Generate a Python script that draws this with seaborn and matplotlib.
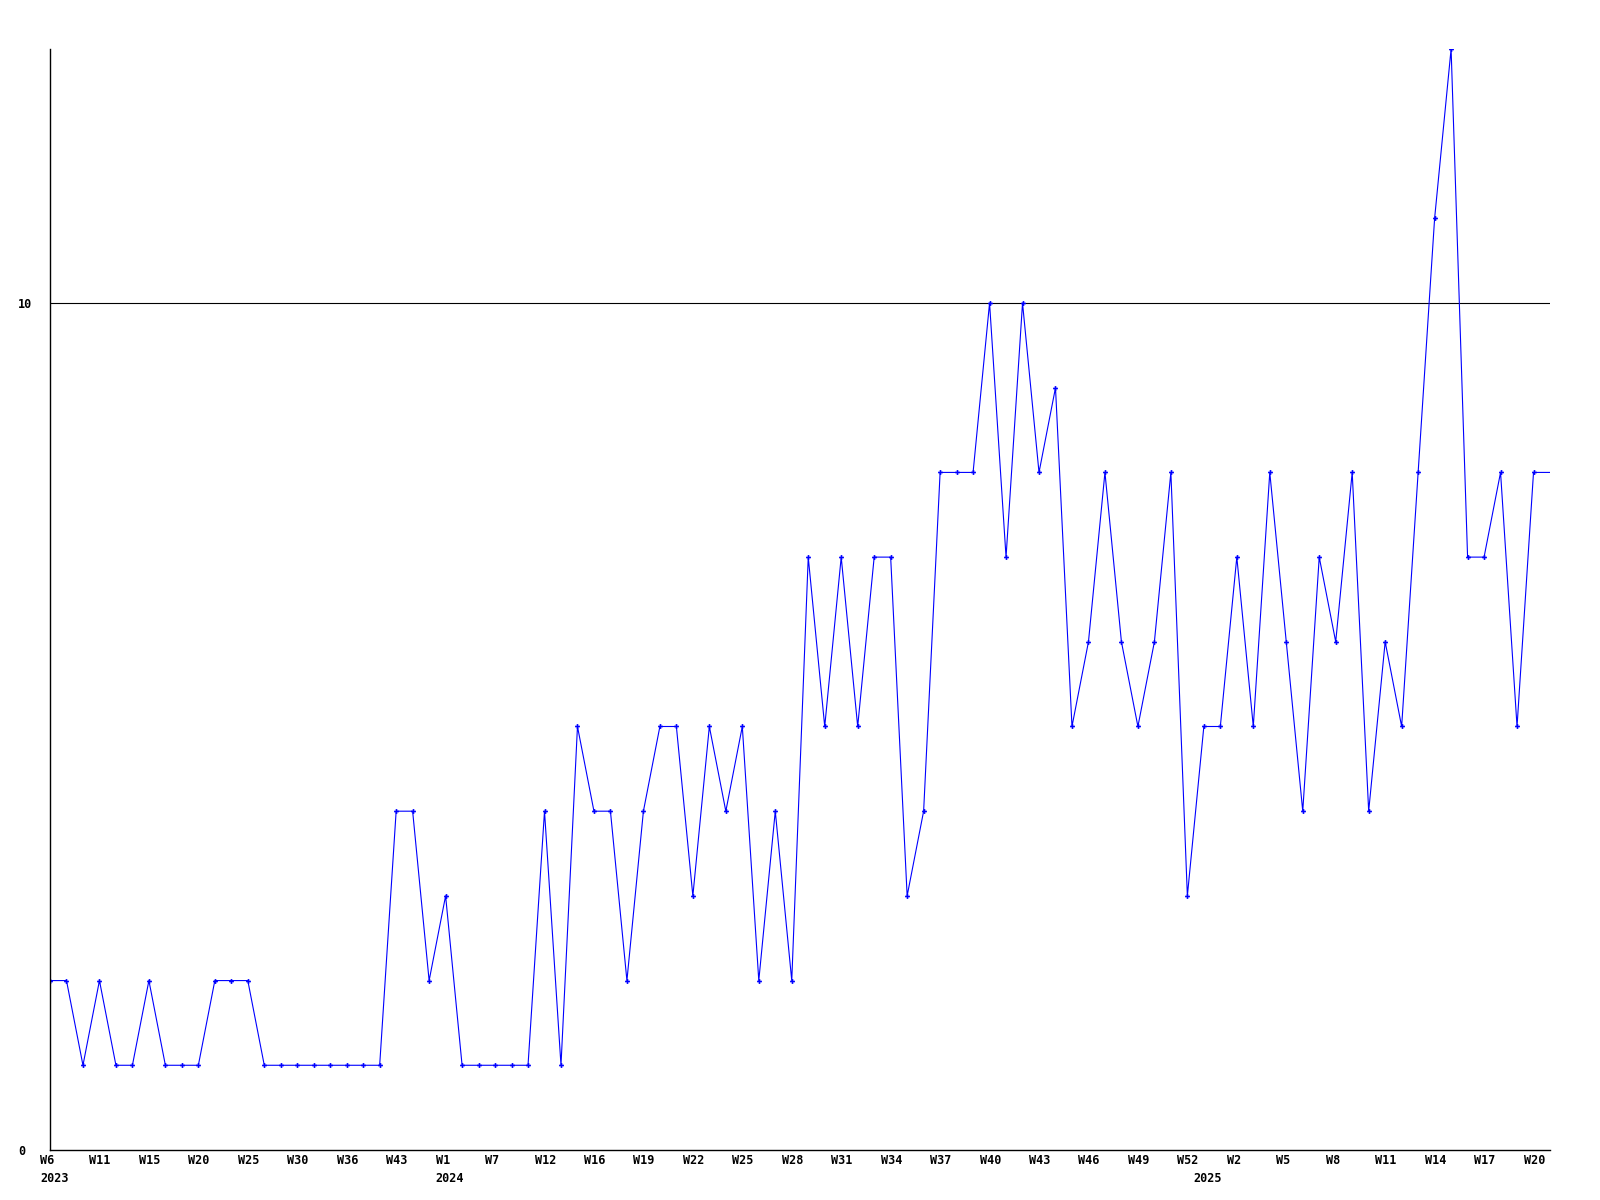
import numpy as np
import pandas as pd
import matplotlib
matplotlib.use("Agg")
import matplotlib.pyplot as plt
import matplotlib.transforms as mtransforms
import seaborn as sns

# --- data (one value per point, last one is the open week, drawn without a marker) ---
values = [2, 2, 1, 2, 1, 1, 2, 1, 1, 1, 2, 2, 2, 1, 1, 1, 1, 1, 1, 1, 1,
          4, 4, 2, 3, 1, 1, 1, 1, 1,
          4, 1, 5, 4, 4, 2, 4, 5, 5, 3, 5, 4, 5, 2, 4, 2,
          7, 5, 7, 5, 7, 7, 3, 4, 8, 8, 8, 10, 7, 10,
          8, 9, 5, 6, 8, 6, 5, 6, 8, 3, 5, 5, 7, 5, 8,
          6, 4, 7, 6, 8, 4, 6, 5, 8, 11, 13, 7, 7, 8, 5, 8,
          8]
tick_labels = ["W6", "W11", "W15", "W20", "W25", "W30", "W36", "W43",
               "W1", "W7", "W12", "W16", "W19", "W22", "W25", "W28",
               "W31", "W34", "W37", "W40", "W43", "W46", "W49", "W52",
               "W2", "W5", "W8", "W11", "W14", "W17", "W20"]
tick_step = 3
years = ["2023", "2024", "2025"]
year_pos = [0, 24, 70]
y_ticks = [0, 10]

df = pd.DataFrame({"idx": np.arange(len(values)), "value": values})

sns.set_style("white")
plt.rcParams["font.family"] = ["DejaVu Sans Mono"]
plt.rcParams["font.weight"] = "bold"
plt.rcParams["text.color"] = "black"
plt.rcParams["xtick.color"] = "black"
plt.rcParams["ytick.color"] = "black"

fig = plt.figure(figsize=(16, 12), dpi=100)
ax = fig.add_axes([0.03125, 0.0417, 0.9375, 0.9175])

sns.lineplot(data=df, x="idx", y="value", ax=ax, color="#0000ff", lw=0.8,
             marker="P", markersize=3.5, markeredgewidth=0,
             markevery=list(range(len(values) - 1)))
ax.axhline(10, color="black", lw=0.8, zorder=0)

ax.set_xlim(0, len(values) - 1)
ax.set_ylim(0, 13)

ax.set_xticks(np.arange(len(tick_labels)) * tick_step)
ax.set_xticklabels(tick_labels, fontsize=8.5, fontweight="bold", ha="left")
ax.set_yticks(y_ticks)
ax.set_yticklabels([str(t) for t in y_ticks], fontsize=8.5, fontweight="bold", ha="left")
ax.tick_params(axis="x", length=0, pad=3, labelcolor="black")
ax.tick_params(axis="y", length=0, pad=23, labelcolor="black")

shift = mtransforms.ScaledTranslation(-10 / 100, 0, fig.dpi_scale_trans)
for lab in ax.get_xticklabels():
    lab.set_transform(lab.get_transform() + shift)

trans = mtransforms.blended_transform_factory(ax.transData, ax.transAxes)
for yr, pos in zip(years, year_pos):
    ax.text(pos, 0, yr, transform=trans + mtransforms.ScaledTranslation(-10 / 100, -22 / 100, fig.dpi_scale_trans),
            ha="left", va="top", fontsize=8.5, fontweight="bold", color="black")

ax.set_xlabel("")
ax.set_ylabel("")
for s in ["top", "right"]:
    ax.spines[s].set_visible(False)
for s in ["left", "bottom"]:
    ax.spines[s].set_color("black")
    ax.spines[s].set_linewidth(1.0)

fig.savefig("out.png", dpi=100)
